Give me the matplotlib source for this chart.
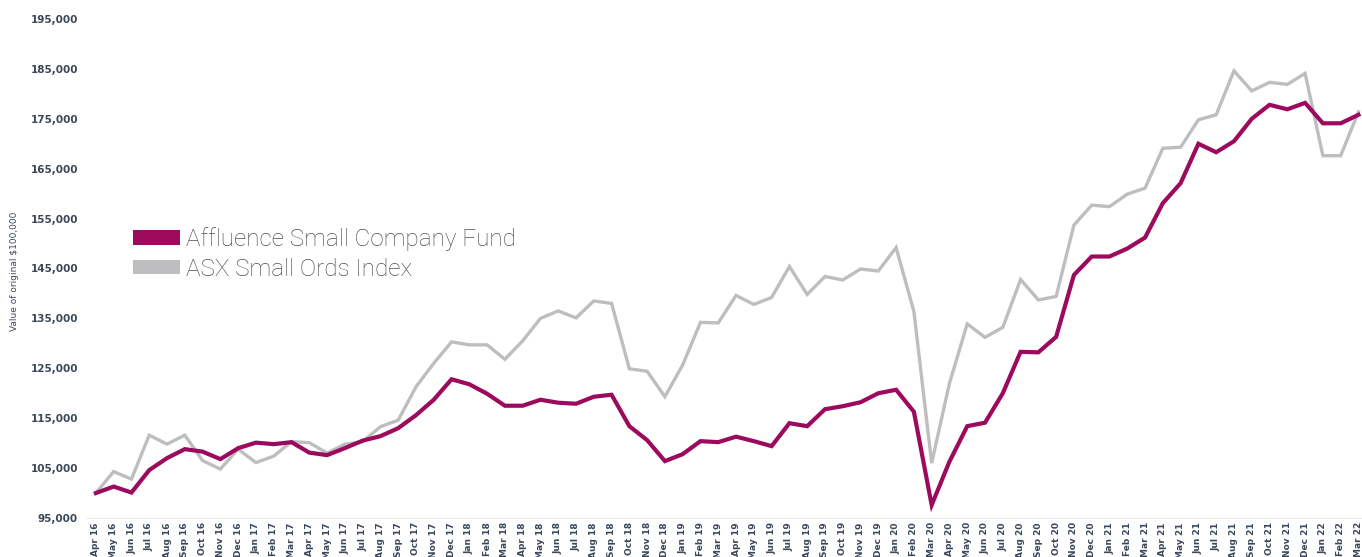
import matplotlib; matplotlib.use("Agg")
import matplotlib.pyplot as plt
from matplotlib.patches import Patch
from matplotlib.ticker import FuncFormatter

months = ["Apr 16","May 16","Jun 16","Jul 16","Aug 16","Sep 16","Oct 16","Nov 16","Dec 16",
          "Jan 17","Feb 17","Mar 17","Apr 17","May 17","Jun 17","Jul 17","Aug 17","Sep 17","Oct 17","Nov 17","Dec 17",
          "Jan 18","Feb 18","Mar 18","Apr 18","May 18","Jun 18","Jul 18","Aug 18","Sep 18","Oct 18","Nov 18","Dec 18",
          "Jan 19","Feb 19","Mar 19","Apr 19","May 19","Jun 19","Jul 19","Aug 19","Sep 19","Oct 19","Nov 19","Dec 19",
          "Jan 20","Feb 20","Mar 20","Apr 20","May 20","Jun 20","Jul 20","Aug 20","Sep 20","Oct 20","Nov 20","Dec 20",
          "Jan 21","Feb 21","Mar 21","Apr 21","May 21","Jun 21","Jul 21","Aug 21","Sep 21","Oct 21","Nov 21","Dec 21",
          "Jan 22","Feb 22","Mar 22"]

fund = [100000,101300,100100,104600,107000,108800,108300,106800,109000,
        110100,109800,110200,108100,107600,109000,110500,111400,113000,115600,118700,122800,
        121800,119900,117500,117500,118700,118100,117900,119300,119700,113400,110600,106400,
        107800,110400,110200,111300,110400,109400,114000,113400,116800,117400,118200,120000,
        120700,116300,97600,106300,113400,114100,120000,128300,128200,131300,143700,147400,
        147400,149000,151200,158100,162100,170000,168300,170500,175000,177800,176900,178200,
        174100,174100,175800]

index = [100000,104300,102800,111600,109800,111600,106500,104800,108800,
         106100,107400,110300,110100,108000,109800,110300,113300,114600,121300,126000,130300,
         129700,129700,126800,130500,135000,136500,135100,138500,138000,124900,124400,119300,
         125700,134200,134100,139600,137800,139200,145400,139800,143400,142700,144900,144500,
         149200,136400,106000,122000,133900,131200,133200,142800,138700,139400,153700,157700,
         157400,159900,161100,169100,169300,174800,175800,184600,180600,182300,181900,184100,
         167600,167600,176400]

PURPLE = "#9c0a5e"
GREY = "#bebec0"
TICK = "#3b4759"

fig = plt.figure(figsize=(13.62, 5.57), dpi=100)
ax = fig.add_axes([87/1362, 39/557, 1275/1362, 499/557])

x = list(range(len(months)))
ax.plot(x, index, color=GREY, lw=2.4, solid_joinstyle="miter")
ax.plot(x, fund, color=PURPLE, lw=3.0, solid_joinstyle="miter")

ax.set_xlim(-0.5, 71.2)
ax.set_ylim(95000, 195000)
ax.set_yticks(range(95000, 195001, 10000))
ax.yaxis.set_major_formatter(FuncFormatter(lambda v, p: f"{int(v):,}"))
ax.set_xticks(x)
ax.set_xticklabels(months, rotation=90)
ax.tick_params(axis="y", length=0, pad=6.5, labelsize=7.5, labelcolor=TICK)
ax.tick_params(axis="x", length=0, pad=3, labelsize=6.5, labelcolor=TICK)
for lab in ax.get_xticklabels() + ax.get_yticklabels():
    lab.set_fontweight("bold")
for s in ["top", "right", "left"]:
    ax.spines[s].set_visible(False)
ax.spines["bottom"].set_color("#eaeaea")

fig.text(15/1362, 1 - 271/557, "Value of original $100,000", rotation=90,
         ha="center", va="center", fontsize=6.5, color=TICK)

handles = [Patch(facecolor=PURPLE, edgecolor="none", label="Affluence Small Company Fund"),
           Patch(facecolor=GREY, edgecolor="none", label="ASX Small Ords Index")]
leg = fig.legend(handles=handles, loc="upper left", bbox_to_anchor=(133/1362, 1 - 227/557),
                 frameon=False, borderpad=0, borderaxespad=0, handlelength=1.95, handleheight=0.55,
                 handletextpad=0.22, labelspacing=0.28,
                 prop={"family": "Roboto", "weight": "light", "size": 17.5})
for t in leg.get_texts():
    t.set_color("#505050")

fig.savefig("out.png", dpi=100)
